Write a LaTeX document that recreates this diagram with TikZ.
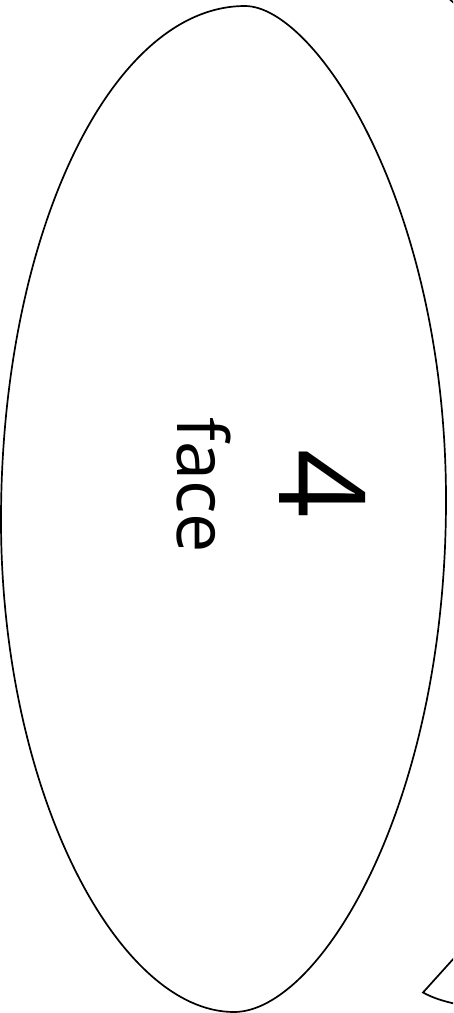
\documentclass[tikz,border=0pt]{standalone}
\usepackage{fontspec}
\setmainfont{Open Sans}
\begin{document}
\begin{tikzpicture}[x=1pt,y=-1pt,
  outline/.style={draw=black,line width=1.7pt},
  lbl/.style={inner sep=0pt,rotate=-90,anchor=base,text=black}]
\useasboundingbox (0,0) rectangle (453,1013);
\clip (0,0) rectangle (453,1013);
\coordinate (T) at (245,6);
\coordinate (R) at (446,500);
\coordinate (B) at (234,1012);
\coordinate (L) at (1,520);
\draw[outline] (T) .. controls (315.4,6) and (446,203.6) .. (R)
  .. controls (446,807.2) and (318.8,1012) .. (B)
  .. controls (118,1012) and (1,791.7) .. (L)
  .. controls (1,236.1) and (110.2,6) .. (T) -- cycle;
\node[lbl,font=\fontsize{120}{120}\selectfont] (num) at (279,483.5) {4};
\node[lbl,font=\fontsize{70}{70}\selectfont] (word) at (177,485) {face};
% fragments of neighbouring shapes
\coordinate (f1) at (455,957);
\coordinate (f2) at (423,992.5);
\coordinate (f3) at (456,1004);
\draw[outline,line join=miter] (f1) -- (f2) .. controls (433,998) and (443,1001) .. (f3);
\coordinate (g1) at (449.5,-1);
\coordinate (g2) at (455,4);
\draw[outline] (g1) -- (g2);
\end{tikzpicture}
\end{document}
